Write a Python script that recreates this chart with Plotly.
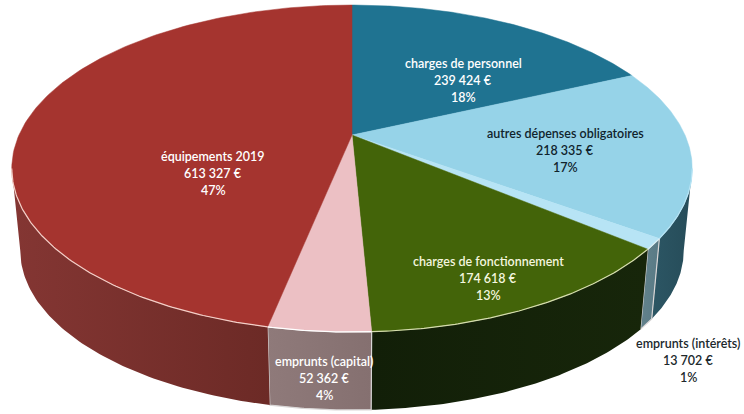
import numpy as np
import plotly.graph_objects as go

# Data, clockwise from the top of the pie
categories = ["charges de personnel", "autres dépenses obligatoires", "emprunts (intérêts)",
              "charges de fonctionnement", "emprunts (capital)", "équipements 2019"]
values = [239424, 218335, 13702, 174618, 52362, 613327]
percent_labels = ["18%", "17%", "1%", "13%", "4%", "47%"]

# Styles
top_colors = ["#1f7391", "#96d3e8", "#b7e4f5", "#436409", "#ecc0c4", "#a5342f"]
wall_colors = [None, ("#2c5664", "#264c59"), ("#63828c", "#587a85"), ("#121f08", "#17260a"),
               ("#8f7a7a", "#857070"), ("#843633", "#6c2a26")]
rim_colors = [None, "#b7e4f5", "#d8eef5", "#d5dcae", "#ffffff", "#f3cfc8"]
text_colors = ["#ffffff", "#10232c", "#20282c", "#f4f6df", "#ffffff", "#ffffff"]
label_anchor = [(463, 80), (565, 150), (688, 360), (488, 278), (324, 378), (213, 173)]

# Projection of the disc (perspective seen from above)
CX, CY, A, B, K = 352, 135, 333, 156.6, 0.205
WALL_SCALE, WALL_DROP = 0.975, 83
LINE_STEP = 17


def top(theta):
    u, v = np.sin(theta), -np.cos(theta)
    w = 1 - K * v
    return CX + A * u / w, CY + B * v / w


def lower(theta):
    x, y = top(theta)
    return CX + (x - CX) * WALL_SCALE, CY + (y - CY) * WALL_SCALE + WALL_DROP


fractions = np.array(values) / sum(values)
edges = np.concatenate([[0], np.cumsum(fractions)]) * 2 * np.pi
wall_start = np.pi - np.arccos(K)
wall_end = 2 * np.pi - wall_start

fig = go.Figure()

# Walls first, so that the top face lies over them
for i, colors in enumerate(wall_colors):
    if colors is None:
        continue
    t0, t1 = max(edges[i], wall_start), min(edges[i + 1], wall_end)
    t = np.linspace(t0, t1, 80)
    xu, yu = top(t)
    xl, yl = lower(t)
    light = categories[i].startswith("emprunts")
    fig.add_trace(go.Scatter(
        x=np.concatenate([xu, xl[::-1], xu[:1]]), y=np.concatenate([yu, yl[::-1], yu[:1]]),
        mode="lines", fill="toself",
        line=dict(color="#d9d6d6" if light else "rgba(0,0,0,0)", width=1.2 if light else 0),
        fillgradient=dict(type="horizontal", colorscale=[[0, colors[0]], [1, colors[1]]]),
        hoverinfo="skip", showlegend=False))

# Top face
for i, color in enumerate(top_colors):
    t = np.linspace(edges[i], edges[i + 1], 160)
    x, y = top(t)
    fig.add_trace(go.Scatter(
        x=np.concatenate([[CX], x, [CX]]), y=np.concatenate([[CY], y, [CY]]),
        mode="lines", fill="toself", fillcolor=color, line=dict(color=color, width=0.5),
        name=categories[i], hoverinfo="name", showlegend=False))

# Pale edge along the front of the top face
for i, color in enumerate(rim_colors):
    if color is None:
        continue
    t = np.linspace(max(edges[i], wall_start), min(edges[i + 1], wall_end), 120)
    x, y = top(t)
    fig.add_trace(go.Scatter(x=x, y=y, mode="lines", line=dict(color=color, width=1.2),
                             hoverinfo="skip", showlegend=False))

# Labels: three lines each
for i, name in enumerate(categories):
    euros = f"{values[i]:,}".replace(",", " ") + " €"
    ax, ay = label_anchor[i]
    for j, line in enumerate([name, euros, percent_labels[i]]):
        fig.add_annotation(x=ax, y=ay + (j - 1) * LINE_STEP, text=line, showarrow=False,
                           font=dict(family="Lato", size=12.5, color=text_colors[i], weight=600),
                           xanchor="center", yanchor="middle")

fig.update_layout(
    width=744, height=414, margin=dict(l=0, r=0, t=0, b=0),
    paper_bgcolor="white", plot_bgcolor="white", showlegend=False,
    xaxis=dict(range=[0, 744], visible=False, fixedrange=True),
    yaxis=dict(range=[414, 0], visible=False, fixedrange=True),
)
fig.write_html("out.html", config={"displayModeBar": False},
               post_script="document.body.style.margin='0';document.body.style.overflow='hidden';")
